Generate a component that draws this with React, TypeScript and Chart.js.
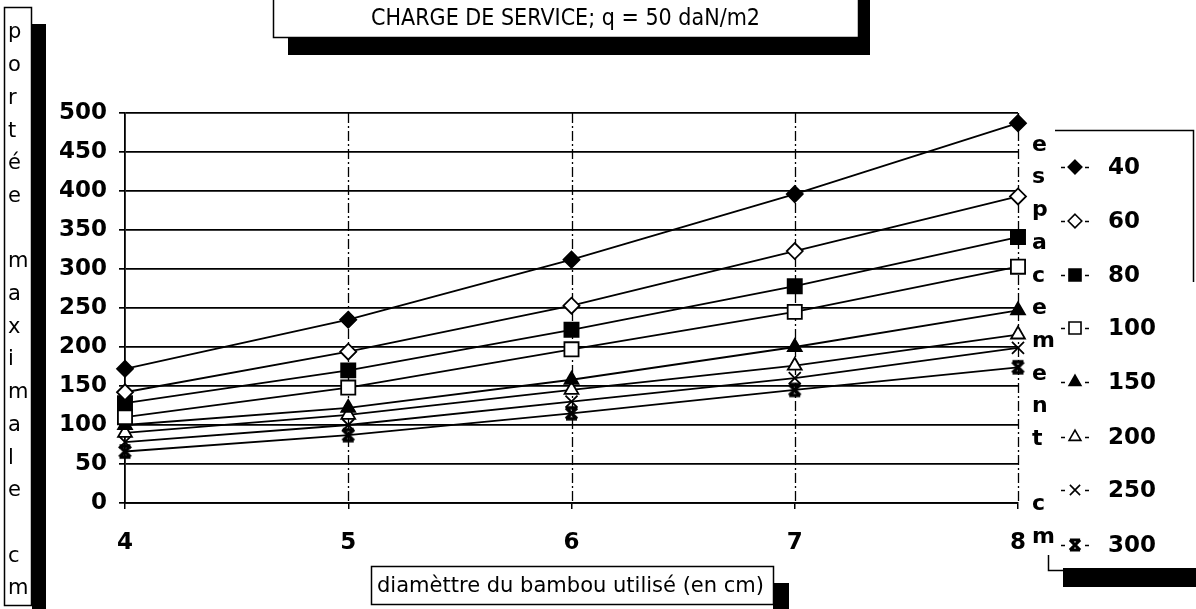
import React, { useEffect, useRef } from 'react';
import { Chart, registerables } from 'chart.js';

Chart.register(...registerables);

// ---- data ----
const xLabels = ['4', '5', '6', '7', '8'];
const seriesNames = ['40', '60', '80', '100', '150', '200', '250', '300'];
const s40 = [172, 235, 312, 396, 487];
const s60 = [142, 194, 253, 323, 393];
const s80 = [128, 170, 222, 278, 341];
const s100 = [110, 148, 197, 245, 303];
const s150 = [100, 122, 158, 200, 247];
const s200 = [90, 113, 145, 176, 216];
const s250 = [78, 100, 130, 160, 199];
const s300 = [66, 87, 115, 145, 174];
const seriesValues = [s40, s60, s80, s100, s150, s200, s250, s300];
const yMin = 0;
const yMax = 500;
const yStep = 50;

const chartTitle = 'CHARGE DE SERVICE; q = 50 daN/m2';
const yTitle = 'portée maximale cm';
const rightTitle = 'espacement cm';
const xTitle = 'diamèttre du bambou utilisé (en cm)';

// ---- styles ----
const markerStyles = ['rectRot', 'rectRot', 'rect', 'rect', 'triangle', 'triangle', 'crossRot', 'xbar'];
const markerFills = ['#000', '#fff', '#000', '#fff', '#000', '#fff', '#fff', '#000'];
const markerRadii = [8, 8, 10, 10, 8, 8, 8.5, 8];

function makeXBar(size: number) {
  const c = document.createElement('canvas');
  c.width = size;
  c.height = size;
  const g = c.getContext('2d')!;
  g.strokeStyle = '#000';
  g.lineWidth = 3.4;
  const a = 3;
  const b = size - 3;
  g.beginPath();
  g.moveTo(a, a);
  g.lineTo(b, b);
  g.moveTo(b, a);
  g.lineTo(a, b);
  g.moveTo(a, a);
  g.lineTo(b, a);
  g.moveTo(a, b);
  g.lineTo(b, b);
  g.stroke();
  return c;
}

function drawMarker(ctx: CanvasRenderingContext2D, style: string, x: number, y: number, r: number, fill: string) {
  ctx.save();
  ctx.fillStyle = fill;
  ctx.strokeStyle = '#000';
  ctx.lineWidth = 1.6;
  ctx.setLineDash([]);
  ctx.beginPath();
  if (style === 'rectRot') {
    ctx.moveTo(x, y - r);
    ctx.lineTo(x + r, y);
    ctx.lineTo(x, y + r);
    ctx.lineTo(x - r, y);
    ctx.closePath();
    ctx.fill();
    ctx.stroke();
  } else if (style === 'rect') {
    const h = r * Math.SQRT1_2;
    ctx.rect(x - h, y - h, 2 * h, 2 * h);
    ctx.fill();
    ctx.stroke();
  } else if (style === 'triangle') {
    for (let i = 0; i < 3; i++) {
      const a = (i * 2 * Math.PI) / 3;
      const px = x + Math.sin(a) * r;
      const py = y - Math.cos(a) * r;
      if (i === 0) ctx.moveTo(px, py);
      else ctx.lineTo(px, py);
    }
    ctx.closePath();
    ctx.fill();
    ctx.stroke();
  } else if (style === 'crossRot') {
    const h = r * Math.SQRT1_2;
    ctx.moveTo(x - h, y - h);
    ctx.lineTo(x + h, y + h);
    ctx.moveTo(x + h, y - h);
    ctx.lineTo(x - h, y + h);
    ctx.stroke();
  } else {
    const h = r * 0.75;
    ctx.lineWidth = 3;
    ctx.moveTo(x - h, y - h);
    ctx.lineTo(x + h, y + h);
    ctx.moveTo(x + h, y - h);
    ctx.lineTo(x - h, y + h);
    ctx.moveTo(x - h, y - h);
    ctx.lineTo(x + h, y - h);
    ctx.moveTo(x - h, y + h);
    ctx.lineTo(x + h, y + h);
    ctx.stroke();
  }
  ctx.restore();
}

function fitText(ctx: CanvasRenderingContext2D, text: string, left: number, cy: number, font: string, targetW: number) {
  ctx.save();
  ctx.font = font;
  const w = ctx.measureText(text).width;
  const sx = targetW / w;
  ctx.translate(left, cy);
  ctx.scale(sx, 1);
  ctx.textAlign = 'left';
  ctx.textBaseline = 'middle';
  ctx.fillStyle = '#000';
  ctx.fillText(text, 0, 0);
  ctx.restore();
}

const decorPlugin = {
  id: 'decor',
  beforeDatasetsDraw(chart: any) {
    const { ctx, chartArea, scales } = chart;
    const x = scales.x;
    ctx.save();
    ctx.strokeStyle = '#000';
    ctx.lineWidth = 1.3;
    ctx.setLineDash([10, 3, 2, 3]);
    for (let i = 1; i < xLabels.length; i++) {
      const px = Math.round(x.getPixelForValue(i)) + 0.5;
      ctx.beginPath();
      ctx.moveTo(px, chartArea.top);
      ctx.lineTo(px, chartArea.bottom);
      ctx.stroke();
    }
    ctx.restore();
  },
  afterDraw(chart: any) {
    const ctx: CanvasRenderingContext2D = chart.ctx;
    ctx.save();
    ctx.strokeStyle = '#000';
    ctx.fillStyle = '#000';
    ctx.lineWidth = 1.5;
    ctx.setLineDash([]);

    // title box with shadow
    ctx.fillStyle = '#000';
    ctx.fillRect(288, 0, 582, 55);
    ctx.fillStyle = '#fff';
    ctx.fillRect(273, -5, 585, 42);
    ctx.strokeRect(273.5, -5, 585, 42.5);
    fitText(ctx, chartTitle, 371, 19, '23px "DejaVu Sans"', 389);

    // left vertical label box with shadow
    ctx.fillStyle = '#000';
    ctx.fillRect(32, 24, 14, 600);
    ctx.fillStyle = '#fff';
    ctx.fillRect(4, 7, 28, 599);
    ctx.strokeRect(4.5, 7.5, 27, 598);
    ctx.fillStyle = '#000';
    ctx.font = '21px "DejaVu Sans"';
    ctx.textAlign = 'left';
    ctx.textBaseline = 'middle';
    const yChars = Array.from(yTitle);
    yChars.forEach((ch, i) => {
      if (ch !== ' ') ctx.fillText(ch, 8, 33 + i * 32.7);
    });

    // right vertical label
    ctx.font = 'bold 22px "DejaVu Sans"';
    const rChars = Array.from(rightTitle);
    rChars.forEach((ch, i) => {
      if (ch !== ' ') ctx.fillText(ch, 1032, 145 + i * 32.7);
    });

    // x title box with shadow
    ctx.fillStyle = '#000';
    ctx.fillRect(773, 583, 16, 30);
    ctx.fillStyle = '#fff';
    ctx.fillRect(371, 566, 402, 38);
    ctx.strokeRect(371.5, 566.5, 402, 38);
    fitText(ctx, xTitle, 377, 587, '21px "DejaVu Sans"', 387);

    // legend frame
    ctx.beginPath();
    ctx.moveTo(1055, 130.5);
    ctx.lineTo(1193.5, 130.5);
    ctx.lineTo(1193.5, 282);
    ctx.moveTo(1048.5, 555);
    ctx.lineTo(1048.5, 570.5);
    ctx.lineTo(1066, 570.5);
    ctx.stroke();
    ctx.fillStyle = '#000';
    ctx.fillRect(1063, 568, 133, 19);

    // legend entries
    const legendY = [167, 221, 275, 328, 382, 437, 490, 545];
    seriesNames.forEach((name, i) => {
      const cy = legendY[i];
      ctx.save();
      ctx.strokeStyle = '#000';
      ctx.lineWidth = 1.5;
      ctx.beginPath();
      ctx.moveTo(1061, cy + 0.5);
      ctx.lineTo(1065, cy + 0.5);
      ctx.moveTo(1085, cy + 0.5);
      ctx.lineTo(1089, cy + 0.5);
      ctx.stroke();
      ctx.restore();
      drawMarker(ctx, markerStyles[i], 1075, cy, markerRadii[i] * 0.85, markerFills[i]);
      ctx.fillStyle = '#000';
      ctx.font = 'bold 23px "DejaVu Sans"';
      ctx.textAlign = 'left';
      ctx.textBaseline = 'middle';
      ctx.fillText(name, 1108, cy + 1);
    });
    ctx.restore();
  },
};

export default function App() {
  const canvasRef = useRef<HTMLCanvasElement | null>(null);

  useEffect(() => {
    const canvas = canvasRef.current;
    if (!canvas) return;
    const xbar = makeXBar(17);
    const datasets = seriesNames.map((name, i) => ({
      label: name,
      data: seriesValues[i],
      borderColor: '#000',
      borderWidth: 1.8,
      backgroundColor: markerFills[i],
      pointBackgroundColor: markerFills[i],
      pointBorderColor: '#000',
      pointBorderWidth: 1.8,
      pointStyle: markerStyles[i] === 'xbar' ? xbar : markerStyles[i],
      pointRadius: markerRadii[i],
      tension: 0,
      fill: false,
    }));

    const chart = new Chart(canvas, {
      type: 'line',
      data: { labels: xLabels, datasets: datasets as any },
      options: {
        responsive: false,
        animation: false,
        devicePixelRatio: 1,
        layout: { padding: { top: 113, right: 178, left: 0, bottom: 0 } },
        plugins: {
          legend: { display: false },
          title: { display: false },
          tooltip: { enabled: false },
        },
        scales: {
          x: {
            type: 'category',
            offset: false,
            grid: {
              display: true,
              drawOnChartArea: false,
              drawTicks: true,
              tickLength: 6,
              color: '#000',
              lineWidth: 1.5,
            },
            border: { display: true, color: '#000', width: 1.8 },
            ticks: {
              color: '#000',
              font: { family: '"DejaVu Sans"', weight: 'bold', size: 23 },
              padding: 20,
              maxRotation: 0,
              autoSkip: false,
            },
            afterFit: (s: any) => {
              s.height = 106;
            },
          },
          y: {
            min: yMin,
            max: yMax,
            ticks: {
              stepSize: yStep,
              color: '#000',
              font: { family: '"DejaVu Sans"', weight: 'bold', size: 23 },
              padding: 12,
            },
            grid: { color: '#000', lineWidth: 1.7, tickLength: 6, drawTicks: true },
            border: { display: true, color: '#000', width: 1.8 },
            afterFit: (s: any) => {
              s.width = 125;
            },
          },
        },
      } as any,
      plugins: [decorPlugin],
    });
    return () => chart.destroy();
  }, []);

  return (
    <div style={{ position: 'fixed', left: 0, top: 0, width: 1196, height: 609, background: '#fff' }}>
      <canvas ref={canvasRef} width={1196} height={609} style={{ display: 'block' }} />
    </div>
  );
}
